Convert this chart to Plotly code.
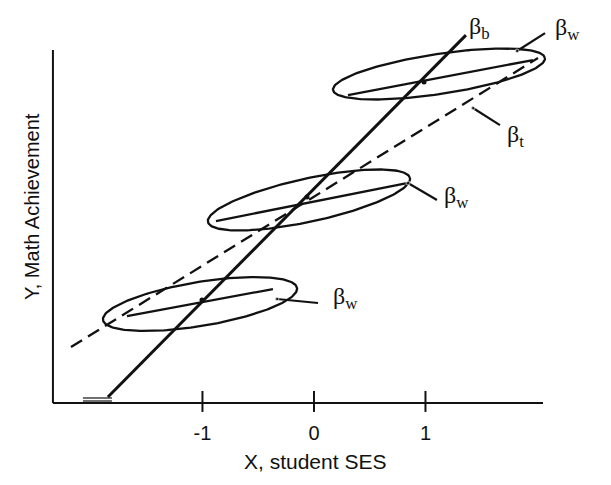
import numpy as np
import plotly.graph_objects as go

# ---- data (axis units: X = student SES, Y = math achievement) ----
x_ticks = [-1, 0, 1]
x_tick_labels = ["-1", "0", "1"]

# between-school regression line (beta_b)
beta_b_x = [-1.848, 1.363]
beta_b_y = [0.054, 3.300]

# total regression line (beta_t)
beta_t_x = [-2.179, 2.009]
beta_t_y = [0.502, 3.094]

# school ellipses: center x, center y, semi-major, semi-minor, tilt (deg)
ell_cx = [-1.022, -0.045, 1.121]
ell_cy = [0.888, 1.821, 2.951]
ell_a = [0.882, 0.927, 0.961]
ell_b = [0.197, 0.194, 0.180]
ell_deg = [9.4, 12.3, 8.6]

# within-school regression segments (beta_w)
within_x0 = [-1.677, -0.879, 0.305]
within_y0 = [0.780, 1.632, 2.762]
within_x1 = [-0.368, 0.834, 1.964]
within_y1 = [1.022, 1.973, 3.076]

# school means (where beta_b crosses)
mean_x = [-1.004, -0.063, 0.987]
mean_y = [0.924, 1.848, 2.879]

# label leader lines and labels
lead_x0 = [-0.332, 0.843, 1.821, 1.426]
lead_y0 = [0.933, 1.973, 3.157, 2.646]
lead_x1 = [0.036, 1.103, 2.072, 1.668]
lead_y1 = [0.897, 1.821, 3.318, 2.493]
label_text = ["β<sub>w</sub>", "β<sub>w</sub>", "β<sub>w</sub>", "β<sub>t</sub>", "β<sub>b</sub>"]
label_x = [0.152, 1.148, 2.143, 1.713, 1.372]
label_y = [0.942, 1.848, 3.354, 2.395, 3.363]

# axes extents
x_axis_ext = [-2.341, 2.054]
y_axis_ext = [0.0, 3.166]

INK = "#111111"
SANS = "Liberation Sans, Arial, Helvetica, sans-serif"
SERIF = "Liberation Serif, DejaVu Serif, serif"
fig = go.Figure()

# axes lines
fig.add_trace(go.Scatter(x=x_axis_ext, y=[0, 0], mode="lines",
                         line=dict(color=INK, width=2), hoverinfo="skip"))
fig.add_trace(go.Scatter(x=[x_axis_ext[0], x_axis_ext[0]], y=y_axis_ext, mode="lines",
                         line=dict(color=INK, width=2), hoverinfo="skip"))
# tick marks crossing the axis
for tv in x_ticks:
    fig.add_trace(go.Scatter(x=[tv, tv], y=[-0.08, 0.108], mode="lines",
                             line=dict(color=INK, width=2), hoverinfo="skip"))
# small double stroke at the foot of beta_b
fig.add_trace(go.Scatter(x=[-2.072, -1.812], y=[0.045, 0.045], mode="lines",
                         line=dict(color=INK, width=1.2), hoverinfo="skip"))
fig.add_trace(go.Scatter(x=[-2.072, -1.812], y=[0.018, 0.018], mode="lines",
                         line=dict(color=INK, width=1.2), hoverinfo="skip"))

# ellipses
t = np.linspace(0, 2 * np.pi, 200)
for cx, cy, a, b, d in zip(ell_cx, ell_cy, ell_a, ell_b, ell_deg):
    th = np.deg2rad(d)
    ex = cx + a * np.cos(t) * np.cos(th) - b * np.sin(t) * np.sin(th)
    ey = cy + a * np.cos(t) * np.sin(th) + b * np.sin(t) * np.cos(th)
    fig.add_trace(go.Scatter(x=ex, y=ey, mode="lines",
                             line=dict(color=INK, width=2.3), hoverinfo="skip"))

# within lines
for x0, y0, x1, y1 in zip(within_x0, within_y0, within_x1, within_y1):
    fig.add_trace(go.Scatter(x=[x0, x1], y=[y0, y1], mode="lines",
                             line=dict(color=INK, width=2.3), hoverinfo="skip"))

# total (dashed) line
fig.add_trace(go.Scatter(x=beta_t_x, y=beta_t_y, mode="lines",
                         line=dict(color=INK, width=2.3, dash="13px,7px"), hoverinfo="skip"))
# between line
fig.add_trace(go.Scatter(x=beta_b_x, y=beta_b_y, mode="lines",
                         line=dict(color=INK, width=3), hoverinfo="skip"))

# school means
fig.add_trace(go.Scatter(x=mean_x, y=mean_y, mode="markers",
                         marker=dict(color=INK, size=5), hoverinfo="skip"))

# leader lines
for x0, y0, x1, y1 in zip(lead_x0, lead_y0, lead_x1, lead_y1):
    fig.add_trace(go.Scatter(x=[x0, x1], y=[y0, y1], mode="lines+markers",
                             line=dict(color=INK, width=2.2),
                             marker=dict(color=INK, size=[4, 0]), hoverinfo="skip"))

for txt, lx, ly in zip(label_text, label_x, label_y):
    fig.add_annotation(x=lx, y=ly, text=txt, showarrow=False, xanchor="left", yanchor="middle",
                       font=dict(family=SERIF, size=24, color=INK))

# axis titles (page has an 8px body margin; plot area spans page x 10..606, y 10..415)
fig.add_annotation(x=(315 - 10) / 596, y=-(461 - 415) / 405, xref="paper", yref="paper",
                   text="X, student SES", showarrow=False, xanchor="center", yanchor="middle",
                   font=dict(family=SANS, size=21, color=INK))
fig.add_annotation(x=(32 - 10) / 596, y=(415 - 207) / 405, xref="paper", yref="paper",
                   text="Y, Math Achievement", textangle=-90, showarrow=False,
                   xanchor="center", yanchor="middle",
                   font=dict(family=SANS, size=20, color=INK))

fig.update_layout(
    width=603, height=477,
    margin=dict(l=2, r=5, t=2, b=70),
    paper_bgcolor="white", plot_bgcolor="white",
    showlegend=False,
    xaxis=dict(range=[-2.726, 2.619], showgrid=False, zeroline=False, showline=False,
               tickmode="array", tickvals=x_ticks, ticktext=x_tick_labels, ticks="",
               ticklabelstandoff=4,
               tickfont=dict(family=SANS, size=20, color=INK)),
    yaxis=dict(range=[-0.1076, 3.525], showgrid=False, zeroline=False, showline=False,
               showticklabels=False, ticks=""),
)

fig.write_html("out.html")
